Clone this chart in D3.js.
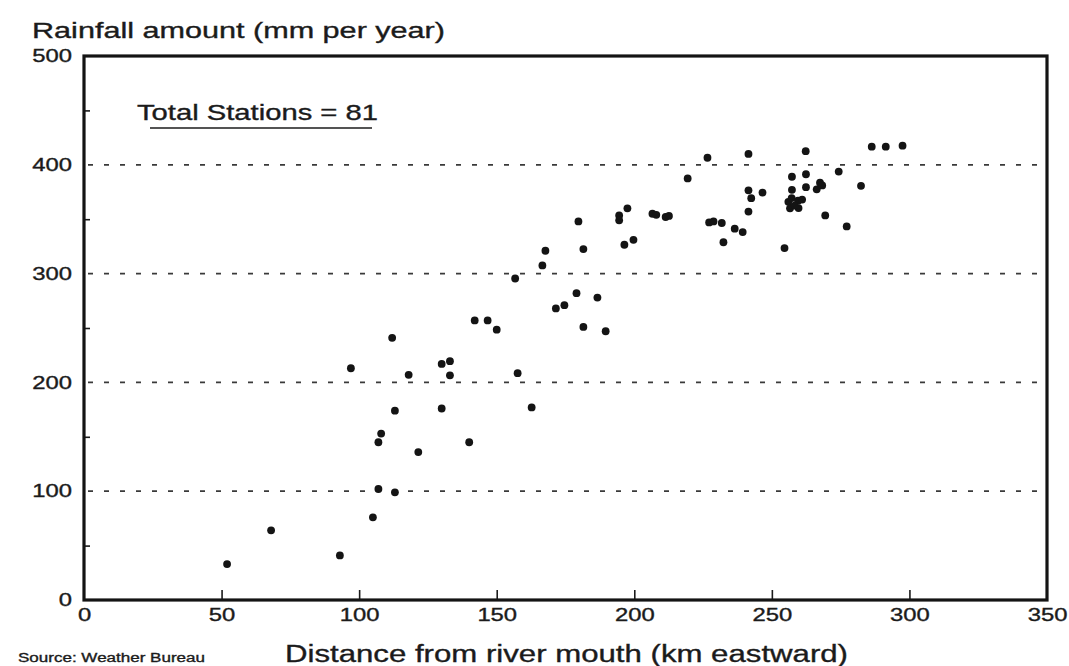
<!DOCTYPE html>
<html>
<head>
<meta charset="utf-8">
<script src="https://cdn.jsdelivr.net/npm/d3@7"></script>
<style>
  body { margin: 0; background: #fff; }
  svg { display: block; }
  text { font-family: "Liberation Sans", Arial, Helvetica, sans-serif; fill: #1b1b1b; stroke: #1b1b1b; stroke-width: 0.35; }
  .grid line { stroke: #3a3a3a; stroke-width: 1.7; stroke-dasharray: 5,11; }
  .dot { fill: #141414; }
</style>
</head>
<body>
<div id="vis-container"></div>
<script>
// station distances (km eastward) and rainfall (mm per year)
var distance = [52, 68, 93, 105, 107, 113, 107, 108, 113, 121.5,
  97, 112, 118, 130, 133, 133, 130, 140, 142, 146.7,
  150, 156.7, 166.6, 167.7, 157.6, 162.7, 171.5, 174.6, 179, 179.7,
  181.5, 181.5, 186.6, 189.6, 194.5, 194.5, 197.5, 196.4, 199.7, 206.6,
  208, 211.4, 212.6, 219.4, 226.6, 241.5, 262.3, 227.2, 228.8, 231.8,
  236.5, 239.4, 232.4, 241.5, 241.5, 242.5, 246.6, 254.6, 257.3, 262.4,
  262.4, 257.3, 269.4, 266.3, 267.5, 268.3, 286.3, 291.4, 297.5, 274.3,
  282.4, 277.2, 256, 257.2, 259.5, 261, 256.6, 259.7, 258.3];
var rainfall = [33, 64, 41, 76, 102, 99, 145, 153, 174, 136,
  213, 241, 207, 217, 219.5, 206.5, 176, 145, 257, 257,
  248.5, 295.5, 307.5, 321, 208.5, 177, 268, 271, 282, 348,
  322.5, 251, 278, 247, 353.5, 349, 360, 326.5, 331, 355,
  354, 352, 353, 387.5, 406.5, 410, 412.5, 347, 348, 346.5,
  341.3, 338.2, 328.8, 357, 376.5, 369.3, 374.5, 323.5, 389, 391.3,
  379.4, 377, 353.5, 377.5, 383.5, 381, 416.7, 416.7, 417.6, 393.8,
  380.7, 343.4, 366, 369.4, 367, 368, 360, 360.2, 362.5];

var xTicks = [0, 50, 100, 150, 200, 250, 300, 350];
var yTicks = [0, 100, 200, 300, 400, 500];
var yMinor = [50, 150, 250, 350, 450];
var yGrid = [100, 200, 300, 400];

var yTitle = "Rainfall amount (mm per year)",
    xTitle = "Distance from river mouth (km eastward)",
    noteText = "Total Stations = 81",
    sourceText = "Source: Weather Bureau";

var W = 1069, H = 666;

var svg = d3.select("#vis-container")
  .append("svg")
  .attr("width", W)
  .attr("height", H);

var x = d3.scaleLinear().domain([0, 350]).range([84, 1047]);
var y = d3.scaleLinear().domain([0, 500]).range([600, 56]);

// the scan is stretched sideways, so widen glyphs to match
function stretch(sel, k) {
  sel.each(function() {
    var w = this.getComputedTextLength();
    d3.select(this).attr("textLength", w * k).attr("lengthAdjust", "spacingAndGlyphs");
  });
}

//dashed gridlines
svg.append("g")
  .attr("class", "grid")
  .selectAll("line")
  .data(yGrid)
  .enter()
  .append("line")
  .attr("x1", x(0) + 4)
  .attr("x2", x(350) - 4)
  .attr("y1", d => y(d))
  .attr("y2", d => y(d));

//x axis: ticks inside, labels below
var xAxis = svg.append("g")
  .attr("transform", "translate(0," + y(0) + ")")
  .call(d3.axisBottom(x).tickValues(xTicks).tickSizeInner(-10).tickSizeOuter(0).tickPadding(9));
xAxis.select(".domain").remove();
xAxis.selectAll(".tick line")
  .attr("stroke", "#1b1b1b")
  .attr("stroke-width", 1.6)
  .filter(d => d == 0 || d == 350).remove();
xAxis.selectAll("text")
  .attr("font-size", 17.5)
  .attr("fill", "#1b1b1b")
  .call(stretch, 1.36);

//y axis labels
var yAxis = svg.append("g")
  .attr("transform", "translate(" + x(0) + ",0)")
  .call(d3.axisLeft(y).tickValues(yTicks).tickSize(0).tickPadding(12));
yAxis.select(".domain").remove();
yAxis.selectAll("text")
  .attr("font-size", 17.5)
  .attr("fill", "#1b1b1b")
  .call(stretch, 1.36);

//minor ticks on the y axis
var yMinorAxis = svg.append("g")
  .attr("transform", "translate(" + x(0) + ",0)")
  .call(d3.axisLeft(y).tickValues(yMinor).tickSizeInner(-6).tickSizeOuter(0).tickFormat(""));
yMinorAxis.select(".domain").remove();
yMinorAxis.selectAll(".tick line").attr("stroke", "#1b1b1b").attr("stroke-width", 1.6);

//frame
svg.append("rect")
  .attr("x", x(0))
  .attr("y", y(500))
  .attr("width", x(350) - x(0))
  .attr("height", y(0) - y(500))
  .attr("fill", "none")
  .attr("stroke", "#141414")
  .attr("stroke-width", 3.2);

//station points
svg.append("g")
  .selectAll("circle")
  .data(d3.zip(distance, rainfall))
  .enter()
  .append("circle")
  .attr("class", "dot")
  .attr("cx", d => x(d[0]))
  .attr("cy", d => y(d[1]))
  .attr("r", 3.9);

//titles and notes
svg.append("text")
  .attr("x", 32)
  .attr("y", 38)
  .attr("font-size", 21.5)
  .text(yTitle)
  .attr("textLength", 413)
  .attr("lengthAdjust", "spacingAndGlyphs");

svg.append("text")
  .attr("x", 137)
  .attr("y", 120)
  .attr("font-size", 21.5)
  .text(noteText)
  .attr("textLength", 241)
  .attr("lengthAdjust", "spacingAndGlyphs");

svg.append("line")
  .attr("x1", 150)
  .attr("x2", 372)
  .attr("y1", 128)
  .attr("y2", 128)
  .attr("stroke", "#1b1b1b")
  .attr("stroke-width", 1.6);

svg.append("text")
  .attr("x", 285)
  .attr("y", 662)
  .attr("font-size", 23.5)
  .text(xTitle)
  .attr("textLength", 563)
  .attr("lengthAdjust", "spacingAndGlyphs");

svg.append("text")
  .attr("x", 18)
  .attr("y", 662)
  .attr("font-size", 12.5)
  .text(sourceText)
  .attr("textLength", 187)
  .attr("lengthAdjust", "spacingAndGlyphs");
</script>
</body>
</html>
